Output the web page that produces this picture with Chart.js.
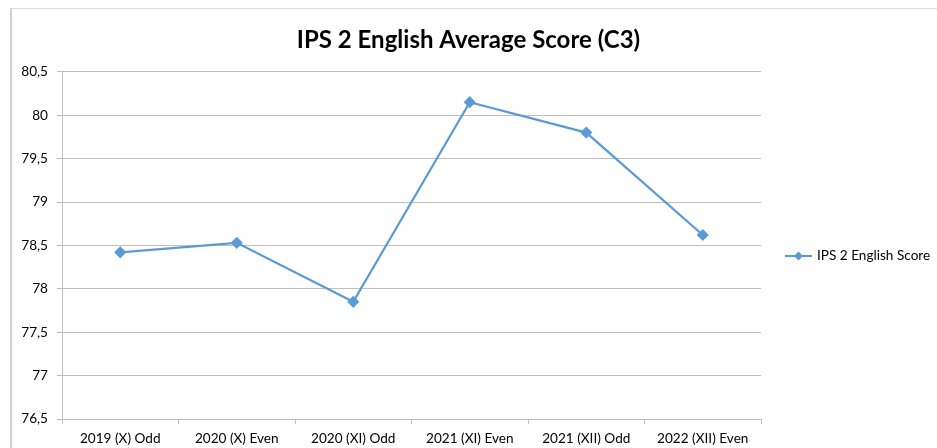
<!DOCTYPE html>
<html>
<head>
<meta charset="utf-8">
<script src="https://cdn.jsdelivr.net/npm/chart.js@4"></script>
<style>
  html, body { margin: 0; padding: 0; background: #fff; overflow: hidden; }
  #wrap { position: relative; width: 937px; height: 448px; }
  #frame { position: absolute; left: 10px; top: 8px; width: 1000px; height: 500px;
           border-left: 2px solid #d0d0d0; border-top: 1px solid #dcdcdc; }
  canvas { position: absolute; left: 0; top: 0; }
</style>
</head>
<body>
<div id="wrap">
  <div id="frame"></div>
  <canvas id="chart" width="937" height="448"></canvas>
</div>
<script>
// ── Data ──────────────────────────────────────────────────────────
const categories = ['2019 (X) Odd', '2020 (X) Even', '2020 (XI) Odd', '2021 (XI) Even', '2021 (XII) Odd', '2022 (XII) Even'];
const englishScores = [78.42, 78.53, 77.85, 80.15, 79.80, 78.62];
const seriesLabel = 'IPS 2 English Score';
const chartTitle = 'IPS 2 English Average Score (C3)';
const yTicks = [76.5, 77, 77.5, 78, 78.5, 79, 79.5, 80, 80.5];

const FONT = 'Lato, "Open Sans", sans-serif';
const LINE_COLOR = '#5b9bd5';
const GRID_COLOR = '#bfbfbf';

// ── Legend drawn at the right of the plot ─────────────────────────
const sideLegend = {
  id: 'sideLegend',
  afterDraw(chart) {
    const { ctx, chartArea } = chart;
    const ds = chart.data.datasets[0];
    const x0 = chartArea.right + 24, y = 256;
    ctx.save();
    ctx.strokeStyle = ds.borderColor;
    ctx.lineWidth = 2;
    ctx.beginPath();
    ctx.moveTo(x0, y);
    ctx.lineTo(x0 + 27, y);
    ctx.stroke();
    ctx.fillStyle = ds.borderColor;
    ctx.beginPath();
    ctx.moveTo(x0 + 13.5, y - 4.5);
    ctx.lineTo(x0 + 18, y);
    ctx.lineTo(x0 + 13.5, y + 4.5);
    ctx.lineTo(x0 + 9, y);
    ctx.closePath();
    ctx.fill();
    ctx.fillStyle = '#000';
    ctx.font = '13.6px ' + FONT;
    ctx.textBaseline = 'middle';
    ctx.fillText(ds.label, x0 + 32, y);
    ctx.restore();
  }
};

new Chart(document.getElementById('chart'), {
  type: 'line',
  data: {
    labels: categories,
    datasets: [{
      label: seriesLabel,
      data: englishScores,
      borderColor: LINE_COLOR,
      backgroundColor: LINE_COLOR,
      borderWidth: 2.25,
      pointStyle: 'rectRot',
      pointRadius: 4.5,
      pointHoverRadius: 4.5,
      tension: 0,
      fill: false
    }]
  },
  options: {
    responsive: false,
    animation: false,
    layout: { padding: 0 },
    plugins: {
      legend: { display: false },
      tooltip: { enabled: false },
      title: {
        display: true,
        text: chartTitle,
        color: '#000',
        font: { family: FONT, size: 24, weight: 'bold', lineHeight: 1.2 },
        padding: { top: 26, bottom: 17 }
      }
    },
    scales: {
      x: {
        type: 'category',
        offset: true,
        grid: { offset: true, drawOnChartArea: false, drawTicks: true, tickLength: 5, color: GRID_COLOR },
        border: { display: true, color: GRID_COLOR, width: 1 },
        ticks: { color: '#000', font: { family: FONT, size: 13.6 }, padding: 6, maxRotation: 0, autoSkip: false },
        afterFit(scale) { scale.height = 29; }
      },
      y: {
        min: yTicks[0],
        max: yTicks[yTicks.length - 1],
        afterBuildTicks(scale) { scale.ticks = yTicks.map(v => ({ value: v })); },
        grid: { color: GRID_COLOR, tickLength: 5, drawTicks: true },
        border: { display: true, color: GRID_COLOR, width: 1 },
        ticks: {
          color: '#000',
          font: { family: FONT, size: 13.6 },
          padding: 9,
          callback: v => String(v).replace('.', ',')
        },
        afterFit(scale) { scale.width = 62; }
      },
      side: {
        type: 'linear',
        position: 'right',
        display: true,
        grid: { display: false },
        border: { display: false },
        ticks: { display: false },
        afterFit(scale) { scale.width = 176; }
      }
    }
  },
  plugins: [sideLegend]
});
</script>
</body>
</html>
